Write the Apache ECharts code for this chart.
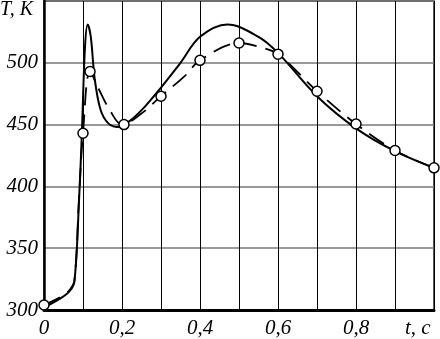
<!DOCTYPE html>
<html><head><meta charset="utf-8">
<script src="https://cdn.jsdelivr.net/npm/echarts@6/dist/echarts.min.js"></script>
<style>html,body{margin:0;padding:0;background:#fff}#c{width:440px;height:339px}</style>
</head><body><div id="c"></div>
<script>
// Calculated temperature (solid line)
const calcT = [0,0.04,0.065,0.078,0.09,0.097,0.105,0.112,0.12,0.13,0.145,0.165,0.19,0.22,0.26,0.3,0.35,0.4,0.47,0.55,0.6,0.7,0.8,0.9,1.0];
const calcV = [302,309,315,323,390,442,512,531,521,487,462,451,448,453,465,480,500,521,531,521,508,473,447,428.5,415];
// Experimental trend (dashed line)
const dashT = [0,0.04,0.065,0.078,0.09,0.1,0.118,0.14,0.17,0.2,0.25,0.3,0.36,0.4,0.5,0.55,0.6,0.7,0.8,0.9,1.0];
const dashV = [304,310,316,324,392,443,493,479,461,450,459,473,489,502,516,513,507,477,450.5,429,415];
// Experimental points (circles)
const expT = [0,0.1,0.118,0.205,0.3,0.4,0.5,0.6,0.7,0.8,0.9,1.0];
const expV = [304,443,493,450,473,502,516,507,477,450.5,429,415];
// Axis ticks
const yTicks = [300,350,400,450,500];
const xLabelTicks = [0,0.2,0.4,0.6,0.8];

const font = '"Liberation Serif", "DejaVu Serif", serif';
const zip = (a,b)=>a.map((v,i)=>[v,b[i]]);
const chart = echarts.init(document.getElementById('c'));
chart.setOption({
  animation:false,
  grid:{left:44,right:6,top:1,bottom:28,show:true,borderColor:'#222',borderWidth:1.5,backgroundColor:'transparent'},
  xAxis:{type:'value',min:0,max:1,interval:0.1,
    axisLine:{show:true,onZero:false,lineStyle:{color:'#000',width:3}},
    axisTick:{show:false},
    splitLine:{show:true,lineStyle:{color:'#000',width:1}},
    axisLabel:{margin:8,color:'#000',fontFamily:font,fontStyle:'italic',fontSize:21,
      formatter:v=>{const k=Math.round(v*10)/10; return xLabelTicks.includes(k)?String(k).replace('.',','):'';}}
  },
  yAxis:{type:'value',min:300,max:550,interval:50,
    axisLine:{show:true,lineStyle:{color:'#000',width:2.5}},
    axisTick:{show:false},
    splitLine:{show:true,lineStyle:{color:'#777',width:1.5}},
    axisLabel:{margin:6,color:'#000',fontFamily:font,fontStyle:'italic',fontSize:21,
      formatter:v=>yTicks.includes(v)?String(v):''}
  },
  graphic:[
    {type:'text',left:0,top:0,style:{text:'T, K',font:'italic 20px '+font,fill:'#000'}},
    {type:'text',left:405,top:318,style:{text:'t, c',font:'italic 21px '+font,fill:'#000'}}
  ],
  series:[
    {type:'line',data:zip(calcT,calcV),showSymbol:false,smooth:0.35,
      lineStyle:{color:'#000',width:2},z:3},
    {type:'line',data:zip(dashT,dashV),showSymbol:false,smooth:0.35,
      lineStyle:{color:'#000',width:1.8,type:[18,9]},z:3},
    {type:'scatter',data:zip(expT,expV),symbol:'circle',symbolSize:10,
      itemStyle:{color:'#fff',borderColor:'#000',borderWidth:1.5,opacity:1},z:5}
  ]
});
</script></body></html>
